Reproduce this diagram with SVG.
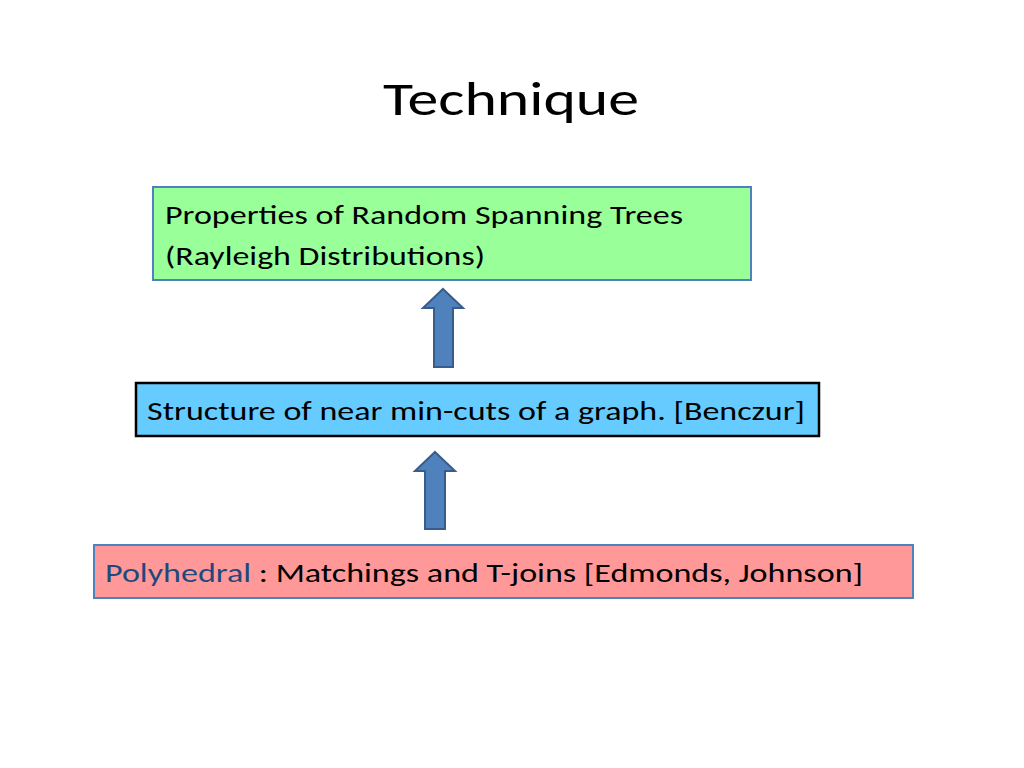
<svg xmlns="http://www.w3.org/2000/svg" width="1024" height="768" viewBox="0 0 1024 768">
<style>
text{font-family:Carlito,"Open Sans","Liberation Sans",sans-serif;font-size:27px;fill:#000}
.arr{fill:#4f81bd;stroke:#385d8a;stroke-width:2}
</style>
<rect width="1024" height="768" fill="#fff"/>
<text x="511" y="115" text-anchor="middle" style="font-size:48px" textLength="256" lengthAdjust="spacingAndGlyphs">Technique</text>
<g id="n1">
<rect x="153" y="187" width="598" height="93" fill="#99ff99" stroke="#4f81bd" stroke-width="2"/>
<text x="165" y="224" textLength="518" lengthAdjust="spacingAndGlyphs">Properties of Random Spanning Trees</text>
<text x="165" y="265" textLength="320" lengthAdjust="spacingAndGlyphs">(Rayleigh Distributions)</text>
</g>
<g id="n2">
<rect x="136" y="383" width="683" height="53" fill="#66ccff" stroke="#000" stroke-width="2.5"/>
<text x="147" y="420" textLength="658" lengthAdjust="spacingAndGlyphs">Structure of near min-cuts of a graph. [Benczur]</text>
</g>
<g id="n3">
<rect x="94" y="545" width="819" height="53" fill="#ff9999" stroke="#4f81bd" stroke-width="2"/>
<text x="105" y="582" textLength="758" lengthAdjust="spacingAndGlyphs"><tspan fill="#1f497d">Polyhedral</tspan> : Matchings and T-joins [Edmonds, Johnson]</text>
</g>
<g id="connectors">
<polygon class="arr" points="443,289 463,308 453,308 453,367 434,367 434,308 423,308"/>
<polygon class="arr" points="435,452 455,471 445,471 445,529 425,529 425,471 415,471"/>
</g>
</svg>
